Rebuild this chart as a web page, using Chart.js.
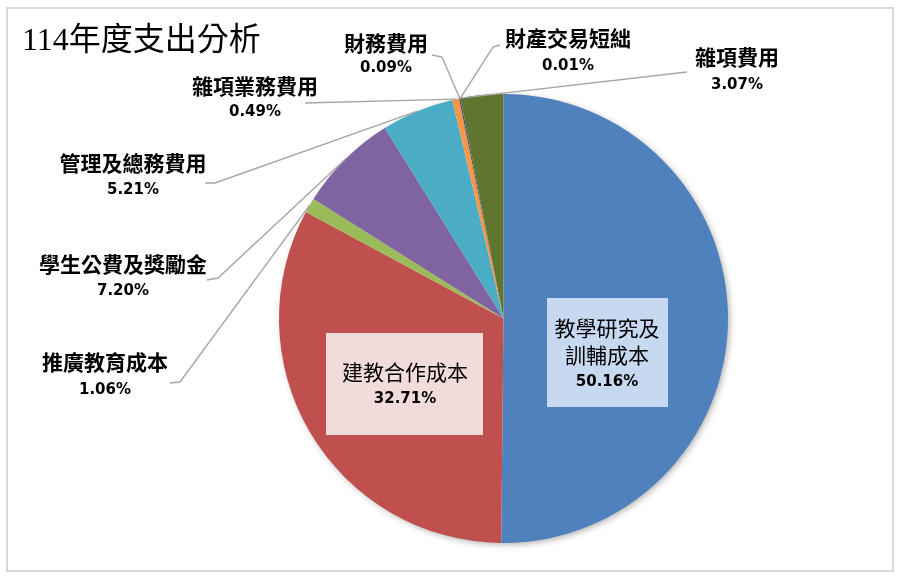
<!DOCTYPE html>
<html>
<head>
<meta charset="utf-8">
<title>114年度支出分析</title>
<script src="https://cdn.jsdelivr.net/npm/chart.js@4/dist/chart.umd.min.js"></script>
<style>
  html, body { margin: 0; padding: 0; background: #fff; }
  #wrap { position: relative; width: 903px; height: 585px; }
</style>
</head>
<body>
<div id="wrap"><canvas id="pieChart"></canvas></div>
<script>
// Dáta grafu
const chartTitle = '114年度支出分析';
const categories = ['教學研究及訓輔成本', '建教合作成本', '推廣教育成本', '學生公費及獎勵金', '管理及總務費用', '雜項業務費用', '財務費用', '財產交易短絀', '雜項費用'];
const shares = [50.16, 32.71, 1.06, 7.20, 5.21, 0.49, 0.09, 0.01, 3.07];
const sliceColors = ['#4F81BD', '#C0504D', '#9BBB59', '#8064A2', '#4BACC6', '#F79646', '#2C4D75', '#772C2A', '#5F7530'];

// Rozmiestnenie popisov (nie sú to dáta)
const labelLayout = [
    { lines: ['教學研究及', '訓輔成本'], x: 607, y: [328, 355, 382], box: [547, 298, 121, 109], fill: '#C6D9F1' },
    { lines: ['建教合作成本'], x: 405, y: [372, 399], box: [326, 333, 157, 102], fill: '#F2DCDB' },
    { lines: ['推廣教育成本'], x: 105, y: [362, 390], end: [170, 383], elbow: [180, 382] },
    { lines: ['學生公費及獎勵金'], x: 123, y: [264, 291], end: [207, 280], elbow: [218, 278] },
    { lines: ['管理及總務費用'], x: 133, y: [163, 190], end: [205, 183], elbow: [215, 183] },
    { lines: ['雜項業務費用'], x: 255, y: [86, 112], end: [305, 103] },
    { lines: ['財務費用'], x: 386, y: [43, 68], end: [432, 55], elbow: [442, 57] },
    { lines: ['財產交易短絀'], x: 568, y: [38, 66], end: [500, 45], elbow: [493, 47] },
    { lines: ['雜項費用'], x: 737, y: [57, 85], end: [687, 72], at: 0 }
];

const cjkFont = '"Noto Sans CJK TC", "Noto Sans CJK SC", sans-serif';

// Rám, tieň a titulok
const framePlugin = {
    id: 'frame',
    beforeDraw(chart) {
        const ctx = chart.ctx;
        ctx.save();
        ctx.fillStyle = '#fff';
        ctx.fillRect(0, 0, chart.width, chart.height);
        ctx.strokeStyle = '#D9D9D9';
        ctx.lineWidth = 2;
        ctx.strokeRect(7, 8, 886, 563);
        ctx.font = '32px "Liberation Serif", ' + cjkFont;
        ctx.fillStyle = '#000';
        ctx.textBaseline = 'middle';
        ctx.fillText(chartTitle, 22, 42);
        ctx.restore();
    },
    beforeDatasetsDraw(chart) {
        const arc = chart.getDatasetMeta(0).data[0];
        if (!arc) return;
        const ctx = chart.ctx;
        ctx.save();
        ctx.shadowColor = 'rgba(0,0,0,0.35)';
        ctx.shadowBlur = 7;
        ctx.shadowOffsetX = 2;
        ctx.shadowOffsetY = 2;
        ctx.fillStyle = '#fff';
        ctx.beginPath();
        ctx.arc(arc.x, arc.y, arc.outerRadius - 1, 0, Math.PI * 2);
        ctx.fill();
        ctx.restore();
    }
};

// Popisy s vodiacimi čiarami
const labelPlugin = {
    id: 'sliceLabels',
    afterDatasetsDraw(chart) {
        const ctx = chart.ctx;
        const arcs = chart.getDatasetMeta(0).data;
        ctx.save();
        labelLayout.forEach((lay, i) => {
            const arc = arcs[i];
            const pct = shares[i].toFixed(2) + '%';
            if (lay.box) {
                ctx.fillStyle = lay.fill;
                ctx.fillRect(lay.box[0], lay.box[1], lay.box[2], lay.box[3]);
            } else {
                const f = lay.at === undefined ? 0.5 : lay.at;
                const a = arc.startAngle + (arc.endAngle - arc.startAngle) * f;
                const px = arc.x + Math.cos(a) * arc.outerRadius;
                const py = arc.y + Math.sin(a) * arc.outerRadius;
                ctx.strokeStyle = '#A6A6A6';
                ctx.lineWidth = 1.4;
                ctx.beginPath();
                ctx.moveTo(px, py);
                if (lay.elbow) ctx.lineTo(lay.elbow[0], lay.elbow[1]);
                ctx.lineTo(lay.end[0], lay.end[1]);
                ctx.stroke();
            }
            ctx.fillStyle = '#000';
            ctx.textAlign = 'center';
            ctx.textBaseline = 'middle';
            const weight = lay.box ? 'normal' : 'bold';
            ctx.font = weight + ' 21px ' + cjkFont;
            lay.lines.forEach((t, k) => ctx.fillText(t, lay.x, lay.y[k]));
            ctx.font = 'bold 15px "DejaVu Sans", sans-serif';
            ctx.fillText(pct, lay.x, lay.y[lay.lines.length]);
        });
        ctx.restore();
    }
};

const ctx = document.getElementById('pieChart').getContext('2d');
new Chart(ctx, {
    type: 'pie',
    data: {
        labels: categories,
        datasets: [{
            data: shares,
            backgroundColor: sliceColors,
            borderWidth: 0,
            hoverOffset: 0,
            offset: 0
        }]
    },
    options: {
        responsive: true,
        maintainAspectRatio: false,
        animation: false,
        rotation: 0,
        layout: {
            padding: { left: 278.5, right: 174.5, top: 94, bottom: 42 }
        },
        plugins: {
            legend: { display: false },
            tooltip: { enabled: false }
        }
    },
    plugins: [framePlugin, labelPlugin]
});
</script>
</body>
</html>
